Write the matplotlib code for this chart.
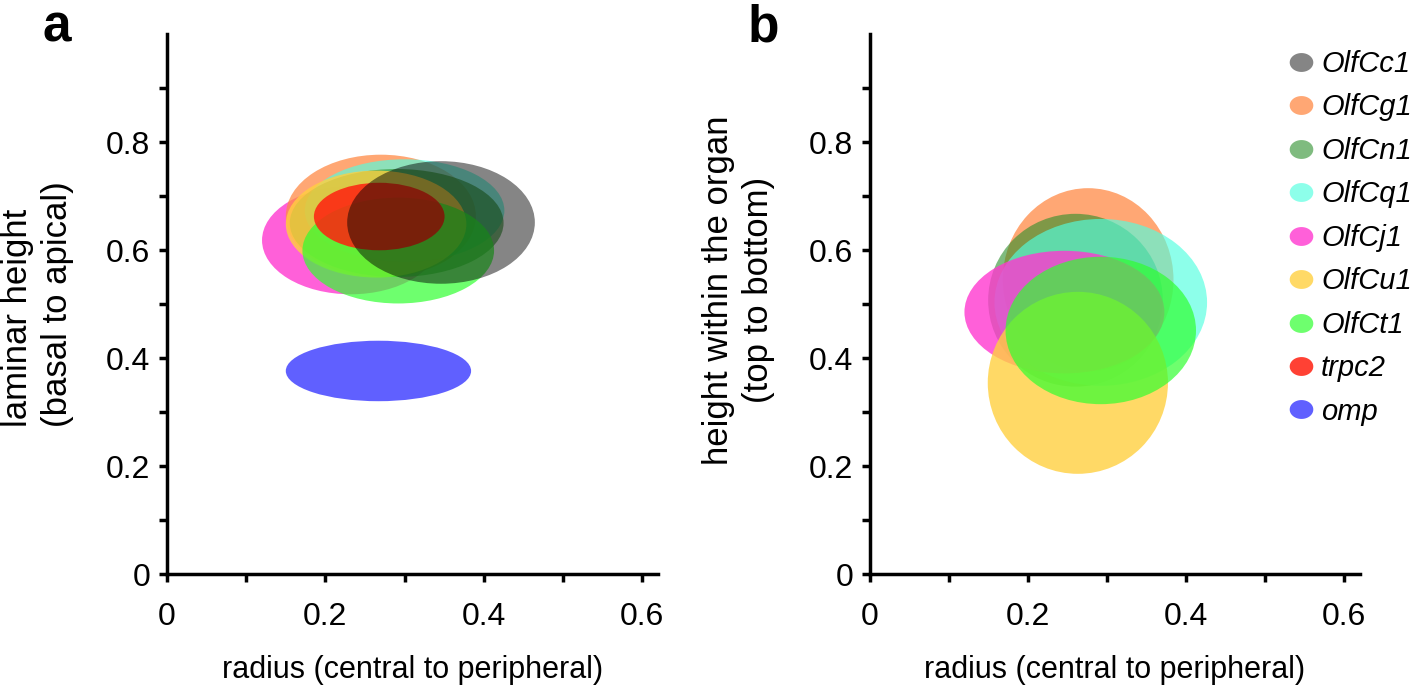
import numpy as np
import matplotlib.pyplot as plt
from matplotlib.patches import Ellipse
from matplotlib.lines import Line2D
from matplotlib.path import Path

plt.rcParams['font.family'] = ['Liberation Sans', 'DejaVu Sans']

# gene names and colours (legend order)
genes = ['OlfCc1', 'OlfCg1', 'OlfCn1', 'OlfCq1', 'OlfCj1',
         'OlfCu1', 'OlfCt1', 'trpc2', 'omp']
colors = ['#000000', '#ff8a45', '#2a8f2a', '#50ffe0', '#ff38d0',
          '#ffd040', '#30ff30', '#ff2010', '#3838ff']
alphas = [0.48, 0.75, 0.6, 0.65, 0.8, 0.8, 0.7, 0.85, 0.8]

# panel a: centre x, centre y, width, height
a_x = [0.346, 0.270, 0.290, 0.300, 0.232, 0.264, 0.292, 0.268, 0.267]
a_y = [0.651, 0.663, 0.650, 0.673, 0.618, 0.648, 0.599, 0.662, 0.376]
a_w = [0.237, 0.240, 0.270, 0.252, 0.224, 0.228, 0.242, 0.165, 0.234]
a_h = [0.227, 0.227, 0.200, 0.190, 0.200, 0.198, 0.196, 0.125, 0.112]

# panel b (nan = not shown)
nan = np.nan
b_x = [nan, 0.276, 0.260, 0.292, 0.246, 0.263, 0.292, nan, nan]
b_y = [nan, 0.545, 0.507, 0.503, 0.485, 0.354, 0.451, nan, nan]
b_w = [nan, 0.216, 0.221, 0.269, 0.253, 0.228, 0.241, nan, nan]
b_h = [nan, 0.339, 0.320, 0.309, 0.227, 0.337, 0.273, nan, nan]

# drawing order (indices into genes)
order_a = [4, 1, 3, 2, 5, 6, 7, 0, 8]
order_b = [1, 2, 3, 4, 5, 6]

x_ticks = [0, 0.1, 0.2, 0.3, 0.4, 0.5, 0.6]
y_ticks = [0, 0.1, 0.2, 0.3, 0.4, 0.5, 0.6, 0.7, 0.8, 0.9]

def fmt(v, i):
    if i % 2:
        return ''
    return '0' if v == 0 else '%.1f' % v

#----------------------------------------------------------#

fig = plt.figure(figsize=(14.18, 6.94), dpi=100)
ax_a = fig.add_axes([167/1418, 1-574/694, 491/1418, 540/694])
ax_b = fig.add_axes([870/1418, 1-574/694, 490/1418, 540/694])

for ax, order, xs, ys, ws, hs in [(ax_a, order_a, a_x, a_y, a_w, a_h),
                                  (ax_b, order_b, b_x, b_y, b_w, b_h)]:
    for i in order:
        ax.add_patch(Ellipse((xs[i], ys[i]), ws[i], hs[i], facecolor=colors[i],
                             alpha=alphas[i], edgecolor='none'))
    ax.set_xlim(0, 0.62)
    ax.set_ylim(0, 1.0)
    ax.spines['top'].set_visible(False)
    ax.spines['right'].set_visible(False)
    ax.spines['left'].set_linewidth(2.5)
    ax.spines['bottom'].set_linewidth(2.5)
    ax.set_xticks(x_ticks)
    ax.set_xticklabels([fmt(v, i) for i, v in enumerate(x_ticks)])
    ax.set_yticks(y_ticks)
    ax.set_yticklabels([fmt(v, i) for i, v in enumerate(y_ticks)])
    ax.tick_params(direction='out', length=6, width=2.5, labelsize=23, pad=6)
    ax.tick_params(axis='x', pad=14)
    ax.set_xlabel('radius (central to peripheral)', fontsize=22, labelpad=17)

ax_a.set_ylabel('laminar height\n(basal to apical)', fontsize=25,
                linespacing=1.25, multialignment='left')
ax_a.yaxis.set_label_coords(-0.19, 0.5)
ax_b.set_ylabel('height within the organ\n(top to bottom)', fontsize=25,
                linespacing=1.25)
ax_b.yaxis.set_label_coords(-0.194, 0.526)

fig.text(43/1418, 1-42/694, 'a', fontsize=37, fontweight='bold', va='baseline')
fig.text(748/1418, 1-42/694, 'b', fontsize=37, fontweight='bold', va='baseline')

# elliptical legend marker
t = np.linspace(0, 2*np.pi, 60)
ell = Path(np.column_stack([1.25*np.cos(t), np.sin(t)]), closed=True)
handles = [Line2D([], [], linestyle='none', marker=ell, markersize=17,
                  markerfacecolor=colors[i], markeredgewidth=0, alpha=alphas[i])
           for i in range(len(genes))]
ax_b.legend(handles, genes, loc='upper left', bbox_to_anchor=(1289/1418, 1-50/694),
            bbox_transform=fig.transFigure, frameon=False,
            prop={'style': 'italic', 'size': 21}, handlelength=0.8,
            handletextpad=0.3, labelspacing=0.53, borderpad=0, borderaxespad=0)

plt.savefig('out.png', dpi=100)
